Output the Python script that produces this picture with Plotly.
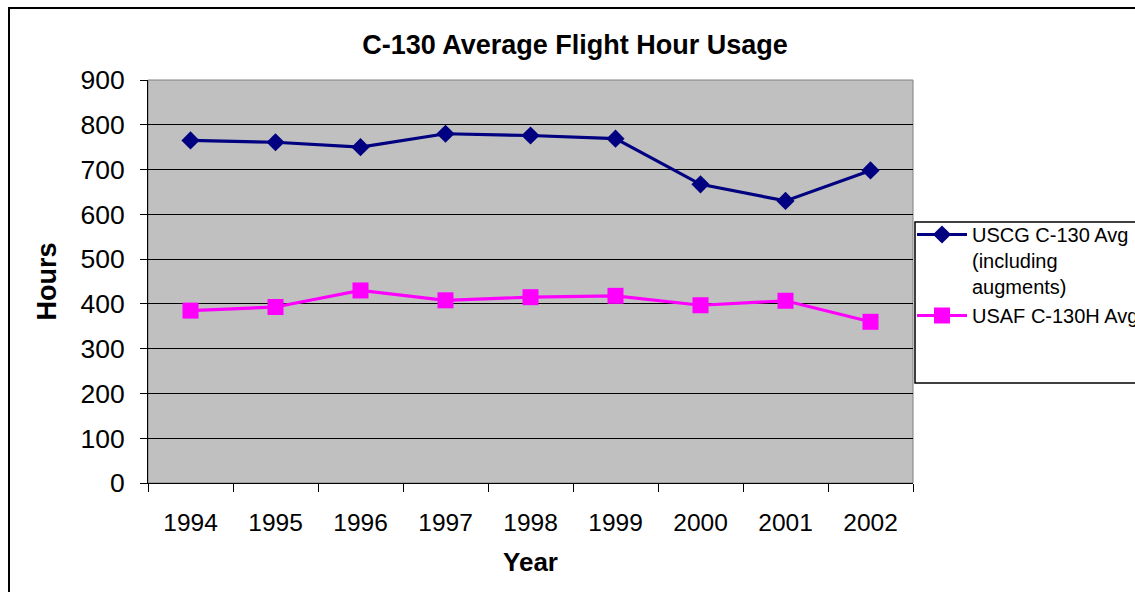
import plotly.graph_objects as go

years = ["1994", "1995", "1996", "1997", "1998", "1999", "2000", "2001", "2002"]
uscg = [765, 761, 750, 780, 776, 769, 667, 630, 698]
usaf = [385, 393, 430, 408, 415, 418, 397, 407, 360]
y_ticks = [0, 100, 200, 300, 400, 500, 600, 700, 800, 900]

W, H = 1135, 592
L, R, T, B = 148, 913, 80, 483

def px(x):
    return (x - L) / (R - L)

def py(y):
    return (B - y) / (B - T)

FONT = "Liberation Sans, Arial, sans-serif"

fig = go.Figure()
fig.add_trace(go.Scatter(
    x=years, y=uscg, mode="lines+markers", name="USCG C-130 Avg<br>(including<br>augments)",
    line=dict(color="#000080", width=3.2),
    marker=dict(symbol="diamond", size=14, color="#000080"),
))
fig.add_trace(go.Scatter(
    x=years, y=usaf, mode="lines+markers", name="USAF C-130H Avg",
    line=dict(color="#FF00FF", width=3.2),
    marker=dict(symbol="square", size=16, color="#FF00FF"),
))

fig.update_layout(
    width=W, height=H,
    margin=dict(l=L, r=W - R, t=T, b=H - B, pad=0, autoexpand=False),
    paper_bgcolor="white",
    plot_bgcolor="#C0C0C0",
    font=dict(family=FONT, color="black"),
    title=dict(text="<b>C-130 Average Flight Hour Usage</b>", x=575 / W, xanchor="center",
               y=1 - 45 / H, yanchor="middle", font=dict(size=27, family=FONT)),
    showlegend=True,
    legend=dict(x=px(912), y=py(215), xanchor="left", yanchor="top",
                bgcolor="rgba(0,0,0,0)", borderwidth=0, valign="top",
                font=dict(size=20, family=FONT), itemwidth=50,
                tracegroupgap=5),
    xaxis=dict(type="category", range=[-0.5, 8.5], tickson="boundaries",
               ticks="outside", ticklen=8, tickcolor="black", tickwidth=1,
               showline=True, linecolor="black", linewidth=1, showgrid=False,
               tickfont=dict(size=24.5, family=FONT), ticklabelstandoff=18,
               title=dict(text="<b>Year</b>", font=dict(size=26, family=FONT), standoff=17)),
    yaxis=dict(range=[0, 900], tickvals=y_ticks, ticks="outside", ticklen=7,
               tickcolor="black", tickwidth=1, showline=True, linecolor="black",
               linewidth=1, showgrid=True, gridcolor="black", gridwidth=1,
               zeroline=False, tickfont=dict(size=26.5, family=FONT), ticklabelstandoff=10,
               title=dict(text="<b>Hours</b>", font=dict(size=27, family=FONT), standoff=16)),
)

# plot area border on top/right
fig.add_shape(type="rect", xref="paper", yref="paper", x0=0, x1=1, y0=0, y1=1,
              line=dict(color="#808080", width=1), layer="below")
# legend box
fig.add_shape(type="rect", xref="paper", yref="paper", x0=px(915), x1=px(1145),
              y0=py(383), y1=py(222), line=dict(color="black", width=1.5))
# outer chart frame
fig.add_shape(type="rect", xref="paper", yref="paper", x0=px(9), x1=px(1150),
              y0=py(610), y1=py(8), line=dict(color="black", width=2))

fig.write_html("out.html", config={"displayModeBar": False},
               post_script="document.body.style.margin='0';document.body.style.overflow='hidden';")
